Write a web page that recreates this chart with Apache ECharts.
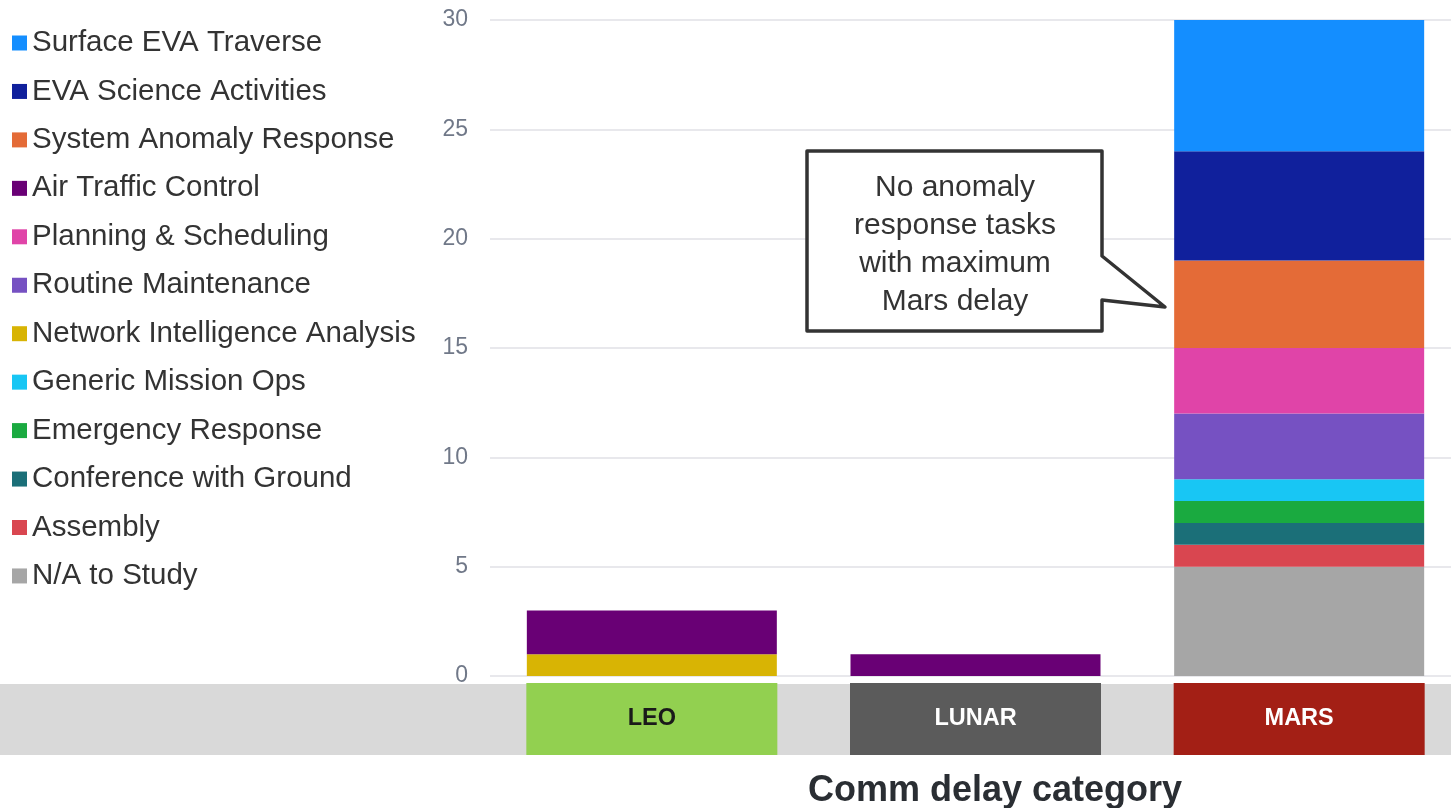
<!DOCTYPE html>
<html>
<head>
<meta charset="utf-8">
<script src="https://cdn.jsdelivr.net/npm/echarts@6/dist/echarts.min.js"></script>
<style>
html,body{margin:0;padding:0;background:#fff;overflow:hidden;}
#chart{width:1461px;height:808px;}
</style>
</head>
<body>
<div id="chart"></div>
<script>
// ---- data ----
const categories = ['LEO', 'LUNAR', 'MARS'];
const naToStudy = [0, 0, 5];
const assembly = [0, 0, 1];
const conferenceWithGround = [0, 0, 1];
const emergencyResponse = [0, 0, 1];
const genericMissionOps = [0, 0, 1];
const networkIntelligence = [1, 0, 0];
const routineMaintenance = [0, 0, 3];
const planningScheduling = [0, 0, 3];
const airTrafficControl = [2, 1, 0];
const systemAnomalyResponse = [0, 0, 4];
const evaScienceActivities = [0, 0, 5];
const surfaceEvaTraverse = [0, 0, 6];
const yTicks = [0, 5, 10, 15, 20, 25, 30];
const annotationLines = ['No anomaly', 'response tasks', 'with maximum', 'Mars delay'];
const xTitle = 'Comm delay category';

// series in stacking order (bottom to top)
const seriesDefs = [
  ['N/A to Study', naToStudy, '#a6a6a6'],
  ['Assembly', assembly, '#d94650'],
  ['Conference with Ground', conferenceWithGround, '#1b6f78'],
  ['Emergency Response', emergencyResponse, '#1aaa40'],
  ['Generic Mission Ops', genericMissionOps, '#18c6f4'],
  ['Network Intelligence Analysis', networkIntelligence, '#d8b404'],
  ['Routine Maintenance', routineMaintenance, '#7651c2'],
  ['Planning & Scheduling', planningScheduling, '#e044a8'],
  ['Air Traffic Control', airTrafficControl, '#690075'],
  ['System Anomaly Response', systemAnomalyResponse, '#e46b37'],
  ['EVA Science Activities', evaScienceActivities, '#10209c'],
  ['Surface EVA Traverse', surfaceEvaTraverse, '#148eff']
];

const FONT = '"Liberation Sans", Arial, sans-serif';
const chart = echarts.init(document.getElementById('chart'), null, {renderer: 'canvas'});

const catStyles = {
  LEO: {bg: '#92d050', color: '#1a1a1a'},
  LUNAR: {bg: '#5b5b5b', color: '#ffffff'},
  MARS: {bg: '#a31f15', color: '#ffffff'}
};
const rich = {};
categories.forEach(c => {
  rich[c] = {
    width: 251, height: 72, lineHeight: 72, align: 'center',
    backgroundColor: catStyles[c].bg, color: catStyles[c].color,
    fontFamily: FONT, fontWeight: 'bold', fontSize: 23.5
  };
});

const option = {
  animation: false,
  backgroundColor: '#ffffff',
  grid: {left: 490, top: 20, right: 0, bottom: 132, containLabel: false},
  legend: {
    orient: 'vertical', left: 12, top: 28, padding: 0,
    icon: 'rect', itemWidth: 15, itemHeight: 15, itemGap: 18.45,
    data: seriesDefs.map(d => d[0]).reverse(),
    textStyle: {fontFamily: FONT, fontSize: 29.5, lineHeight: 30, color: '#333333'},
    selectedMode: false
  },
  title: {
    text: xTitle, left: 995, top: 773, textAlign: 'center', padding: 0,
    textStyle: {fontFamily: FONT, fontSize: 36, fontWeight: 'bold', color: '#2a2e33'}
  },
  xAxis: {
    type: 'category', data: categories,
    axisLine: {show: false}, axisTick: {show: false},
    axisLabel: {
      margin: 7, interval: 0,
      formatter: v => '{' + v + '|' + v + '}',
      rich: rich
    }
  },
  yAxis: {
    type: 'value', min: 0, max: 30, interval: 5,
    axisLine: {show: false}, axisTick: {show: false},
    axisLabel: {
      margin: 22, fontFamily: FONT, fontSize: 23, color: '#707888',
      formatter: v => yTicks.indexOf(v) >= 0 ? String(v) : ''
    },
    splitLine: {lineStyle: {color: '#e0e0e6', width: 1.5}}
  },
  graphic: [
    {
      type: 'rect', z: -10, silent: true,
      shape: {x: 0, y: 684, width: 1461, height: 71},
      style: {fill: '#d9d9d9'}
    },
    {
      type: 'polygon', z: 100, silent: true,
      shape: {points: [[807, 151], [1102, 151], [1102, 256], [1165, 307], [1102, 300], [1102, 331], [807, 331]]},
      style: {fill: '#ffffff', stroke: '#333333', lineWidth: 3.5, lineJoin: 'round'}
    },
    {
      type: 'text', z: 101, silent: true,
      x: 955, y: 245,
      style: {
        text: annotationLines.join('\n'),
        fontFamily: FONT, fontSize: 30, lineHeight: 38,
        fill: '#333333', align: 'center', verticalAlign: 'middle'
      }
    }
  ],
  series: seriesDefs.map(d => ({
    name: d[0], type: 'bar', stack: 'total', data: d[1],
    barWidth: 250,
    itemStyle: {color: d[2]},
    emphasis: {disabled: true}
  }))
};
chart.setOption(option);
</script>
</body>
</html>
